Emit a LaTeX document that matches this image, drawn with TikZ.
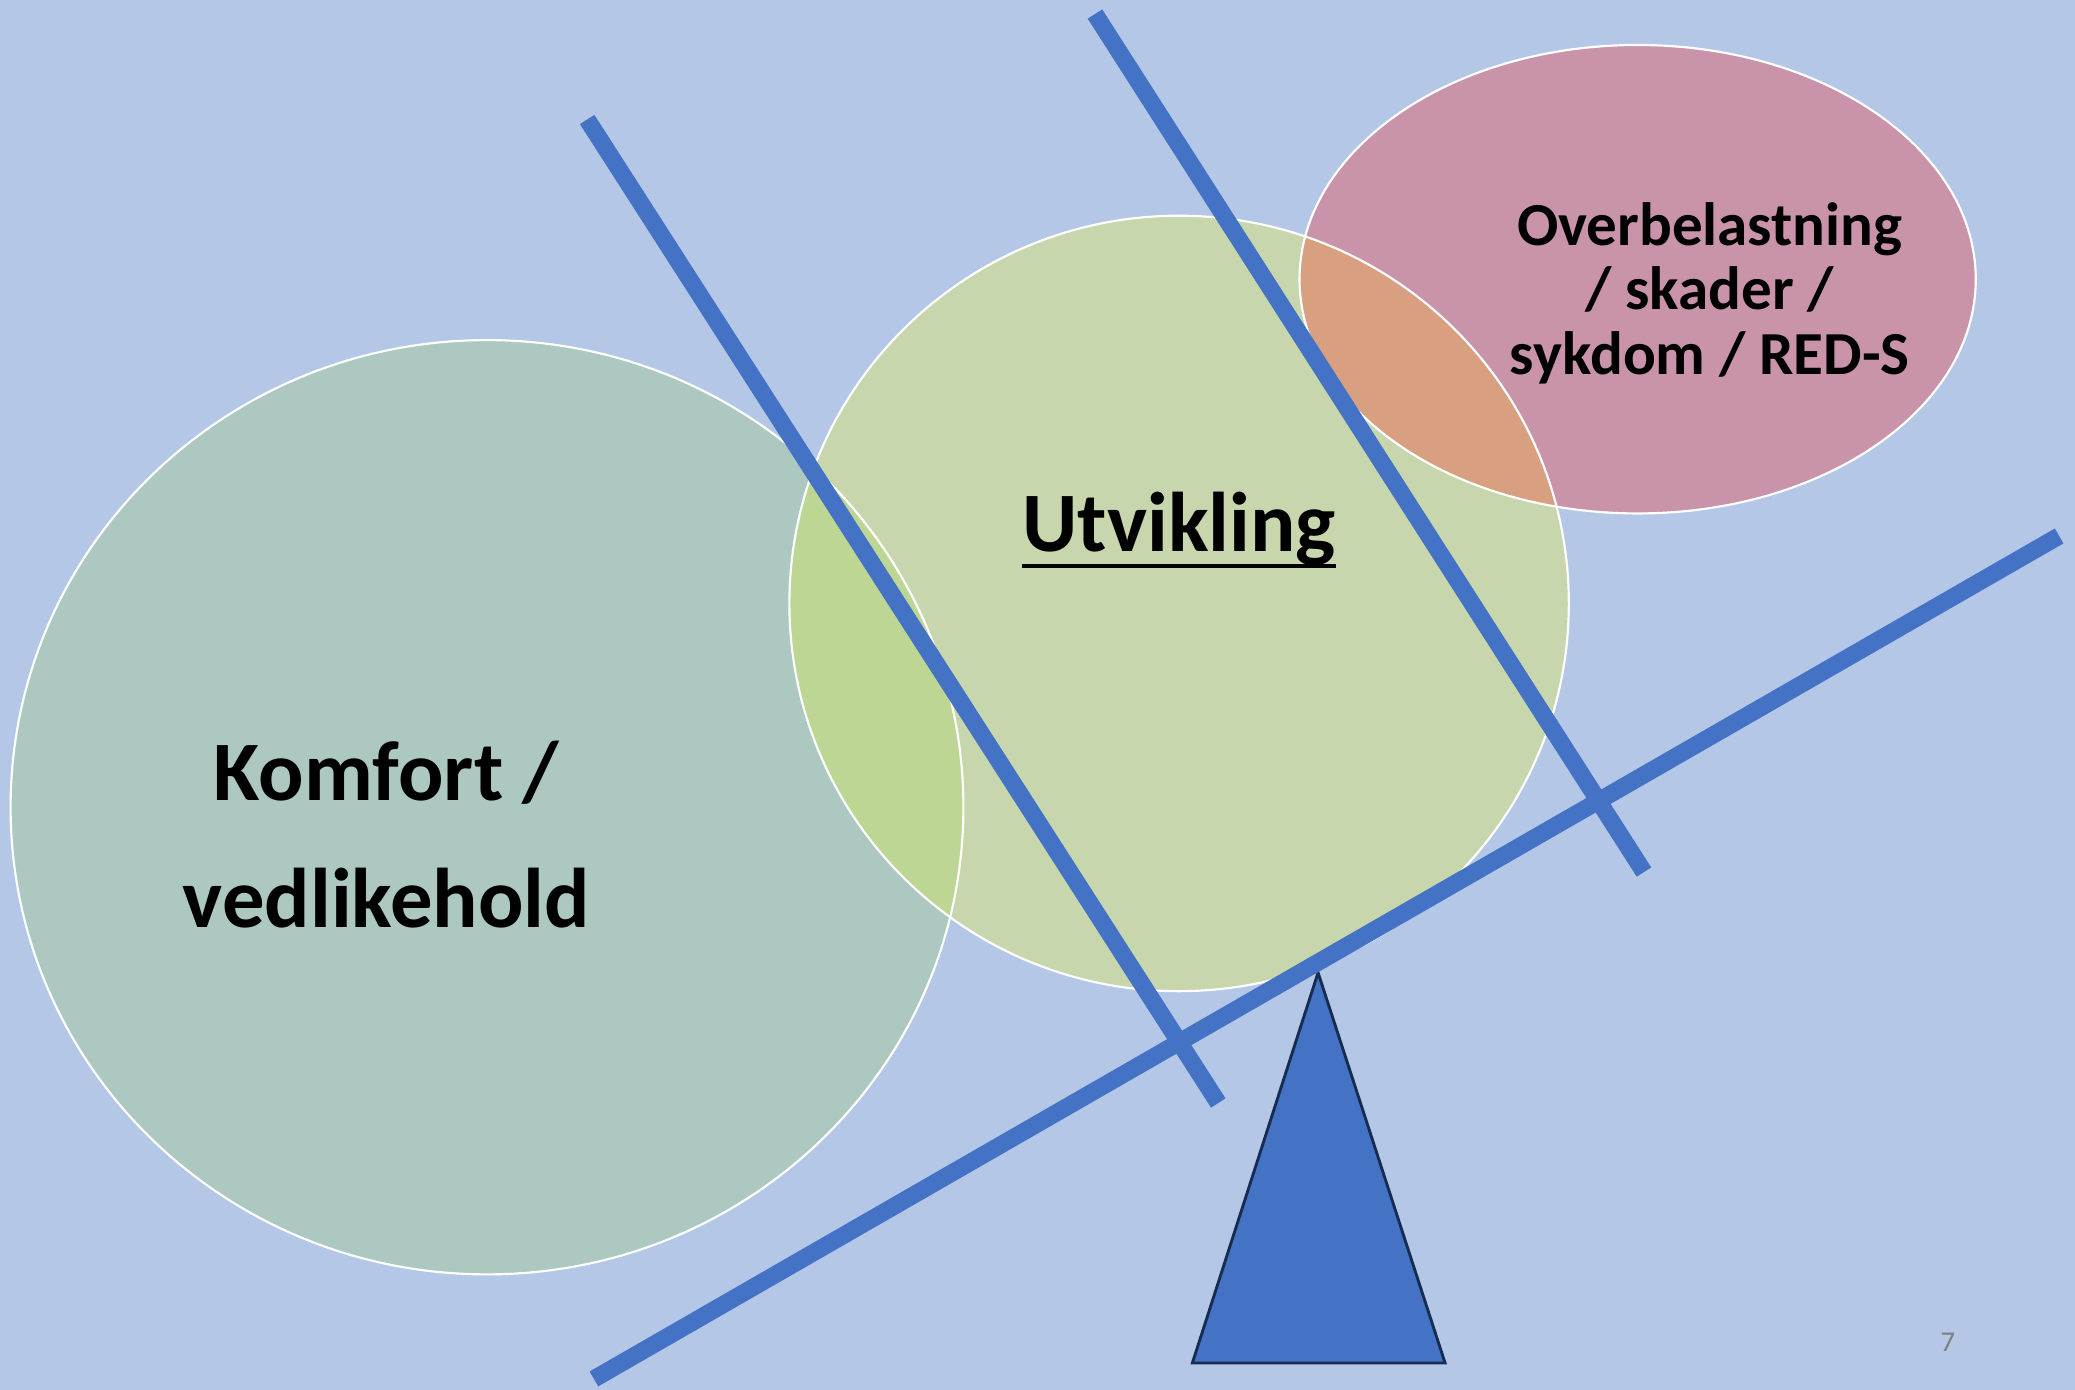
\documentclass[tikz,border=0pt]{standalone}
\usepackage{fontspec}
\setmainfont{Carlito}
\usepackage{xcolor}
\usetikzlibrary{calc, positioning}

\definecolor{slidebg}{HTML}{B4C7E7}
\definecolor{komfortgreen}{HTML}{ACC8C0}
\definecolor{utviklinggreen}{HTML}{C7D6AC}
\definecolor{blandgreen}{HTML}{BED694}
\definecolor{overpink}{HTML}{C994AA}
\definecolor{blandorange}{HTML}{D8A080}
\definecolor{beamblue}{HTML}{4472C4}
\definecolor{navyline}{HTML}{172C51}

\newcommand\strek[1]{\setbox0\hbox{#1}\rlap{\rule[-5.75pt]{\wd0}{1.4pt}}\box0}

\begin{document}
\begin{tikzpicture}[x=0.016199cm, y=-0.016199cm,
        ring/.style={draw=white, line width=0.75pt},
        beam/.style={draw=beamblue, line width=6pt},
        bigtext/.style={font=\bfseries\fontsize{29.5}{44.3}\selectfont, align=center, anchor=base},
        smalltext/.style={font=\bfseries\fontsize{21.3}{22.5}\selectfont, align=center, anchor=base}
    ]
        \useasboundingbox (0,0) rectangle (1568,1050);
        \fill[slidebg] (0,0) rectangle (1568,1050);

        % fields
        \fill[komfortgreen] (368,610) ellipse [x radius=360, y radius=353];
        \fill[utviklinggreen] (891,456) ellipse [x radius=294.5, y radius=293];
        \begin{scope}
            \clip (891,456) ellipse [x radius=294.5, y radius=293];
            \fill[blandgreen] (368,610) ellipse [x radius=360, y radius=353];
        \end{scope}
        \fill[overpink] (1237.5,211) ellipse [x radius=255.5, y radius=177];
        \begin{scope}
            \clip (891,456) ellipse [x radius=294.5, y radius=293];
            \fill[blandorange] (1237.5,211) ellipse [x radius=255.5, y radius=177];
        \end{scope}
        \draw[ring] (368,610) ellipse [x radius=360, y radius=353];
        \draw[ring] (891,456) ellipse [x radius=294.5, y radius=293];
        \draw[ring] (1237.5,211) ellipse [x radius=255.5, y radius=177];

        % texts (base = last line)
        \node[bigtext] (komfort) at (292,701) {Komfort /\\vedlikehold};
        \node[bigtext] (utvikling) at (891,416.9) {\strek{Utvikling}};
        \node[smalltext] (overbelastning) at (1292,283) {Overbelastning\\/ skader /\\sykdom / RED-S};

        % vippe
        \coordinate (topp) at (996,735);
        \coordinate (venstre) at (901,1030);
        \coordinate (hoyre) at (1092,1030);
        \draw[fill=beamblue, draw=navyline, line width=1pt] (topp) -- (venstre) -- (hoyre) -- cycle;

        \coordinate (b1a) at (443.7,90.3);
        \coordinate (b1b) at (920.6,833.5);
        \coordinate (b2a) at (827.4,10.6);
        \coordinate (b2b) at (1242.3,659);
        \coordinate (b3a) at (448.8,1042);
        \coordinate (b3b) at (1556,405);
        \draw[beam] (b1a) -- (b1b);
        \draw[beam] (b2a) -- (b2b);
        \draw[beam] (b3a) -- (b3b);

        \node[font=\fontsize{10}{12}\selectfont, text=gray] (sidetall) at (1472,1014) {7};
    \end{tikzpicture}
\end{document}
